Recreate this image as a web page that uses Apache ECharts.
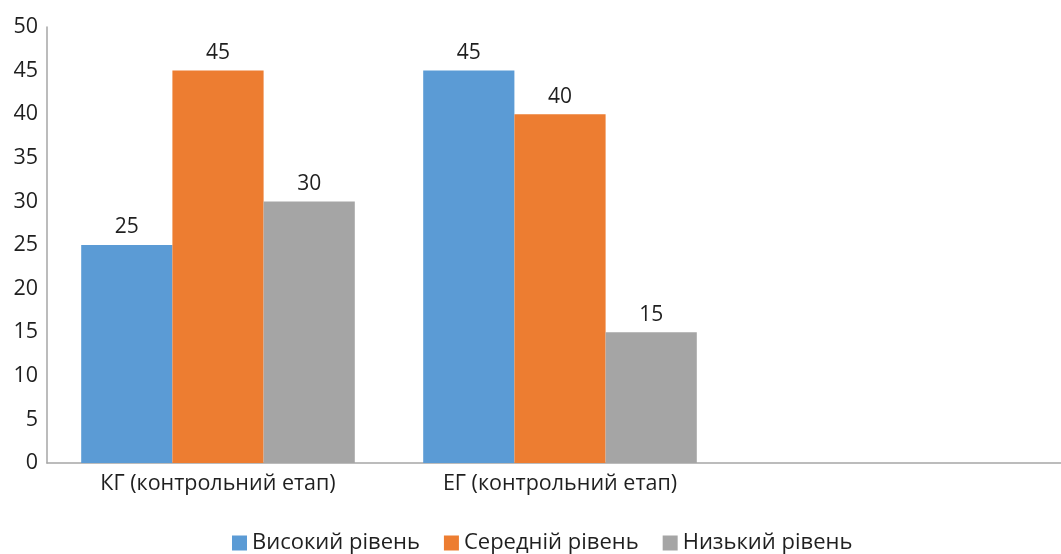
<!DOCTYPE html>
<html><head><meta charset="utf-8">
<script src="https://cdn.jsdelivr.net/npm/echarts@6/dist/echarts.min.js"></script>
<style>html,body{margin:0;padding:0;background:#fff;overflow:hidden}#c{width:1073px;height:554px}</style>
</head><body><div id="c"></div>
<script>
const categories = ['КГ (контрольний етап)', 'ЕГ (контрольний етап)', ''];
const seriesNames = ['Високий рівень', 'Середній рівень', 'Низький рівень'];
const highVals = [25, 45, null];
const midVals = [45, 40, null];
const lowVals = [30, 15, null];
const yTicks = {min: 0, max: 50, interval: 5};
const colors = ['#5b9bd5', '#ed7d31', '#a5a5a5'];
const font = 'Open Sans, Liberation Sans, sans-serif';
const chart = echarts.init(document.getElementById('c'));
const mk = (name, data, i) => ({
  name, type: 'bar', data, barGap: '0%', barCategoryGap: '20%',
  itemStyle: {color: colors[i]},
  label: {show: true, position: 'top', color: '#1f1f1f', fontSize: 21, fontFamily: font, distance: 7}
});
chart.setOption({
  animation: false,
  grid: {left: 47, right: 0, top: 27, bottom: 91, containLabel: false},
  legend: {top: 527, left: 227, itemWidth: 15, itemHeight: 15, itemGap: 24,
    icon: 'rect', textStyle: {fontSize: 22, color: '#1f1f1f', fontFamily: font},
    data: seriesNames},
  xAxis: {type: 'category', data: categories,
    axisLine: {lineStyle: {color: '#a6a6a6', width: 1.5}}, axisTick: {show: false},
    axisLabel: {fontSize: 21.5, color: '#1f1f1f', fontFamily: font, margin: 10}},
  yAxis: {type: 'value', min: yTicks.min, max: yTicks.max, interval: yTicks.interval,
    axisLine: {show: true, lineStyle: {color: '#a6a6a6', width: 1.5}}, axisTick: {show: false},
    splitLine: {show: false},
    axisLabel: {fontSize: 21.5, color: '#1f1f1f', fontFamily: font, margin: 9}},
  series: [mk(seriesNames[0], highVals, 0), mk(seriesNames[1], midVals, 1), mk(seriesNames[2], lowVals, 2)]
});
</script></body></html>
